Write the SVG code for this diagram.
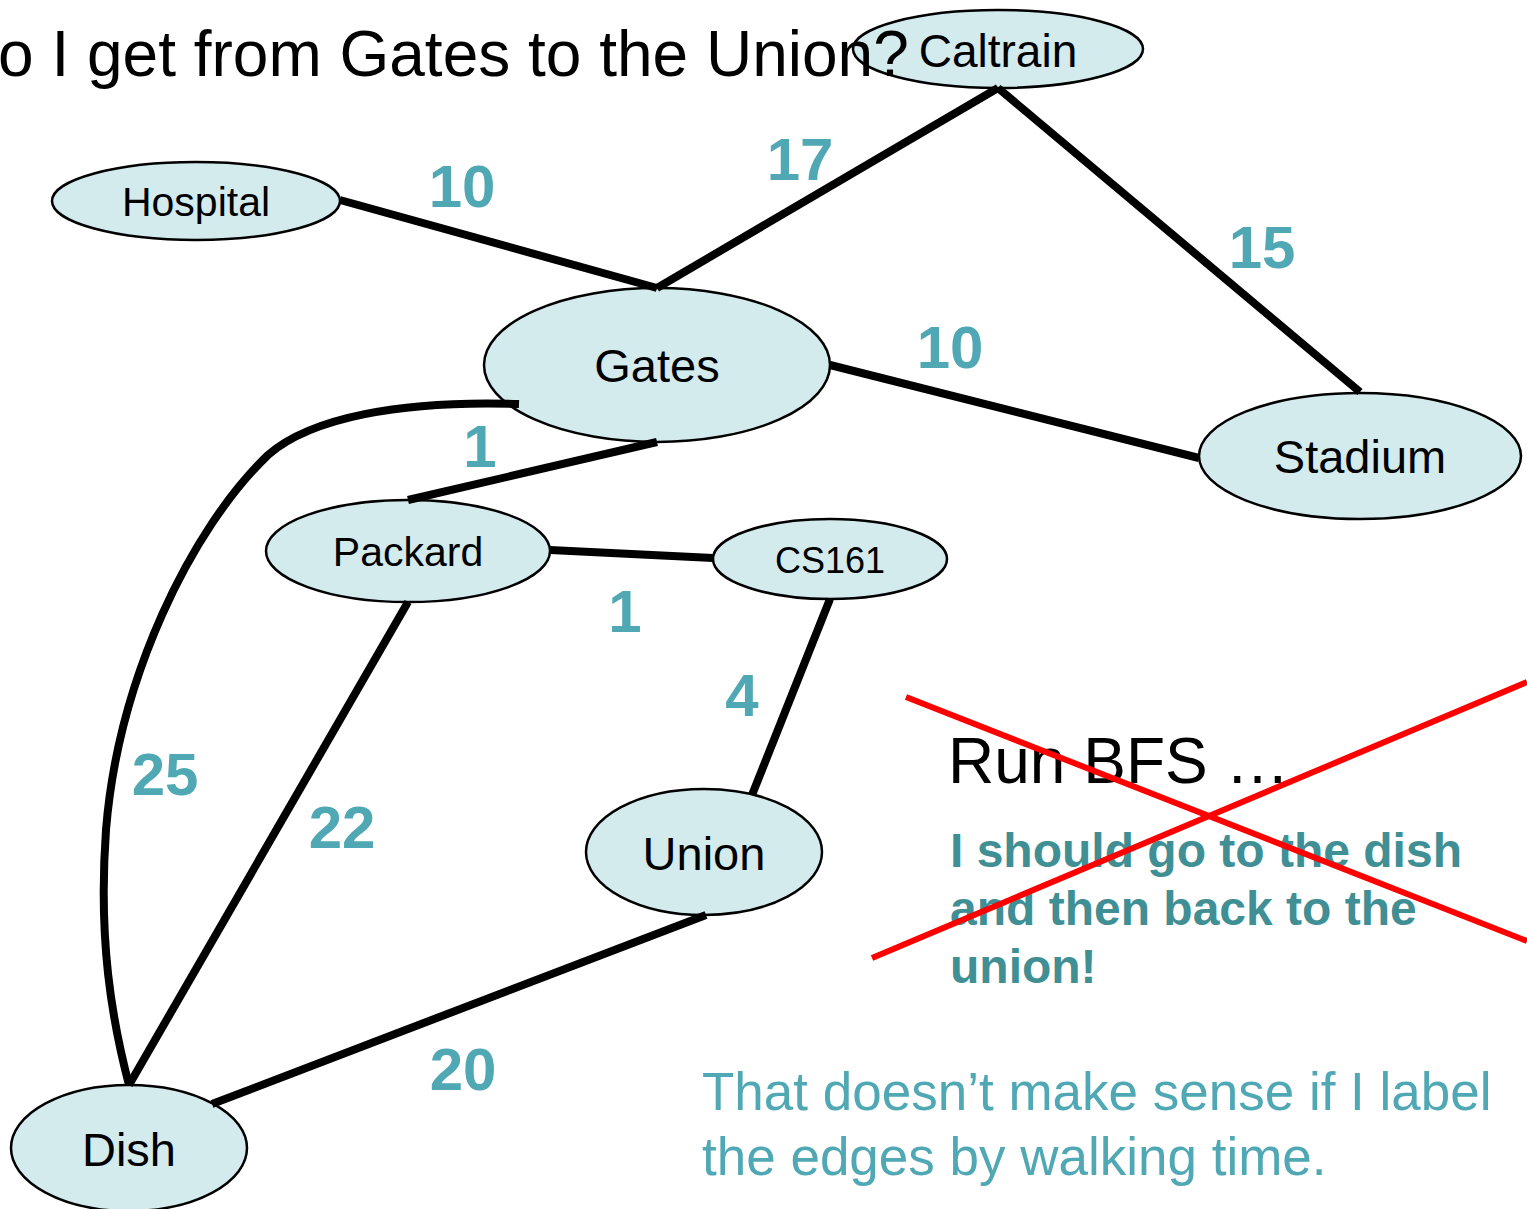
<svg xmlns="http://www.w3.org/2000/svg" width="1527" height="1209" viewBox="0 0 1527 1209">
<style>
.node ellipse{fill:#d4ebee;stroke:#000;stroke-width:2.5}
.node text{font-family:"Liberation Sans",Arial,sans-serif;fill:#000;text-anchor:middle}
.edge{stroke:#000;stroke-width:8;fill:none;stroke-linecap:butt}
.w{font-family:"Liberation Sans",Arial,sans-serif;font-weight:bold;font-size:60px;fill:#4fa8b4;text-anchor:middle}
.cross{stroke:#ff0000;stroke-width:6}
</style>
<rect width="1527" height="1209" fill="#fff"/>
<g id="caltrain" class="node"><ellipse cx="998" cy="49" rx="145" ry="39"/><text x="998" y="67" font-size="46">Caltrain</text></g>
<g id="hospital" class="node"><ellipse cx="196" cy="201" rx="144" ry="39"/><text x="196" y="216" font-size="41">Hospital</text></g>
<g id="gates" class="node"><ellipse cx="657" cy="365" rx="173" ry="77"/><text x="657" y="382" font-size="47">Gates</text></g>
<g id="stadium" class="node"><ellipse cx="1360" cy="456" rx="161" ry="63"/><text x="1360" y="473" font-size="47">Stadium</text></g>
<g id="packard" class="node"><ellipse cx="408" cy="551" rx="142" ry="51"/><text x="408" y="566" font-size="41">Packard</text></g>
<g id="cs161" class="node"><ellipse cx="830" cy="559" rx="117" ry="40"/><text x="830" y="573" font-size="36">CS161</text></g>
<g id="union" class="node"><ellipse cx="704" cy="852" rx="118" ry="63"/><text x="704" y="870" font-size="47">Union</text></g>
<g id="dish" class="node"><ellipse cx="129" cy="1148" rx="118" ry="63"/><text x="129" y="1166" font-size="47">Dish</text></g>
<text x="-2" y="76" font-family="'Liberation Sans',Arial,sans-serif" font-size="64" fill="#000">o I get from Gates to the Union?</text>
<g id="connectors">
<line class="edge" x1="340" y1="200" x2="657" y2="288"/>
<line class="edge" x1="657" y1="288" x2="998" y2="88"/>
<line class="edge" x1="998" y1="88" x2="1360" y2="392"/>
<line class="edge" x1="830" y1="365" x2="1199" y2="458"/>
<line class="edge" x1="657" y1="442" x2="408" y2="500"/>
<line class="edge" x1="550" y1="550" x2="713" y2="558"/>
<line class="edge" x1="830" y1="599" x2="752" y2="795"/>
<line class="edge" x1="408" y1="602" x2="129" y2="1085"/>
<line class="edge" x1="706" y1="915" x2="212" y2="1104"/>
<path class="edge" d="M519,404 C400,400 310,418 268,455 C190,530 118,680 106,830 C98,940 112,1020 129,1085"/>
<text class="w" x="462" y="207">10</text>
<text class="w" x="800" y="180">17</text>
<text class="w" x="1262" y="268">15</text>
<text class="w" x="950" y="368">10</text>
<text class="w" x="480" y="467">1</text>
<text class="w" x="625" y="632">1</text>
<text class="w" x="742" y="716">4</text>
<text class="w" x="165" y="795">25</text>
<text class="w" x="342" y="848">22</text>
<text class="w" x="463" y="1090">20</text>
</g>
<g id="notes">
<text x="948" y="783" font-family="'Liberation Sans',Arial,sans-serif" font-size="64" fill="#000">Run BFS …</text>
<g font-family="'Liberation Sans',Arial,sans-serif" font-weight="bold" font-size="48" fill="#408f94">
<text x="950" y="867">I should go to the dish</text>
<text x="950" y="925">and then back to the</text>
<text x="950" y="983">union!</text>
</g>
<line class="cross" x1="906" y1="697" x2="1527" y2="941"/>
<line class="cross" x1="872" y1="958" x2="1527" y2="682"/>
<g font-family="'Liberation Sans',Arial,sans-serif" font-size="53" fill="#4fa8b4">
<text x="702" y="1110">That doesn’t make sense if I label</text>
<text x="702" y="1175">the edges by walking time.</text>
</g>
</g>
</svg>
